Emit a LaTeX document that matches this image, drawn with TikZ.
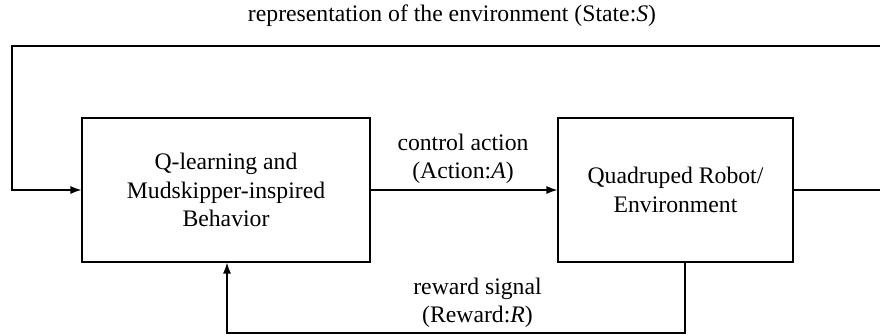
\documentclass[tikz,border=0pt]{standalone}
\usepackage{fontspec}
\setmainfont{Liberation Serif}
\usetikzlibrary{positioning}
\usetikzlibrary{arrows.meta}

\begin{document}
\begin{tikzpicture}[x=1pt,y=-1pt,line width=1.2pt,
  >={Latex[length=11pt,width=8pt]},
  block/.style={draw, align=center, minimum height=144pt, font=\rmfamily\fontsize{23.7}{28.5}\selectfont},
  signal/.style={align=center, font=\rmfamily\fontsize{23.7}{28.5}\selectfont}]
\useasboundingbox (0,0) rectangle (880,336);

% agent
\node (agent) [block, minimum width=288pt] at (226,190) {Q-learning and\\Mudskipper-inspired\\Behavior};

% environment
\node (env) [block, minimum width=235pt] at (675.5,190) {Quadruped Robot/\\Environment};

% corners of the loops
\coordinate (tr) at (882,46);
\coordinate (tl) at (12,46);
\coordinate (br) at (685,333);
\coordinate (bl) at (227,333);

% action
\draw[->] (agent) -- (env);
\node (action) [signal] at (463,159) {control action\\(Action:\textit{A})};

% state
\draw[->] (env.east) -- (env.east -| tr) -- (tr) -- (tl) -- (tl |- agent.west) -- (agent.west);
\node (state) [signal] at (452,16) {representation of the environment (State:\textit{S})};

% reward
\draw[->] (env.south -| br) -- (br) -- (bl) -- (agent.south -| bl);
\node (reward) [signal] at (477.5,303) {reward signal\\(Reward:\textit{R})};

\end{tikzpicture}
\end{document}
